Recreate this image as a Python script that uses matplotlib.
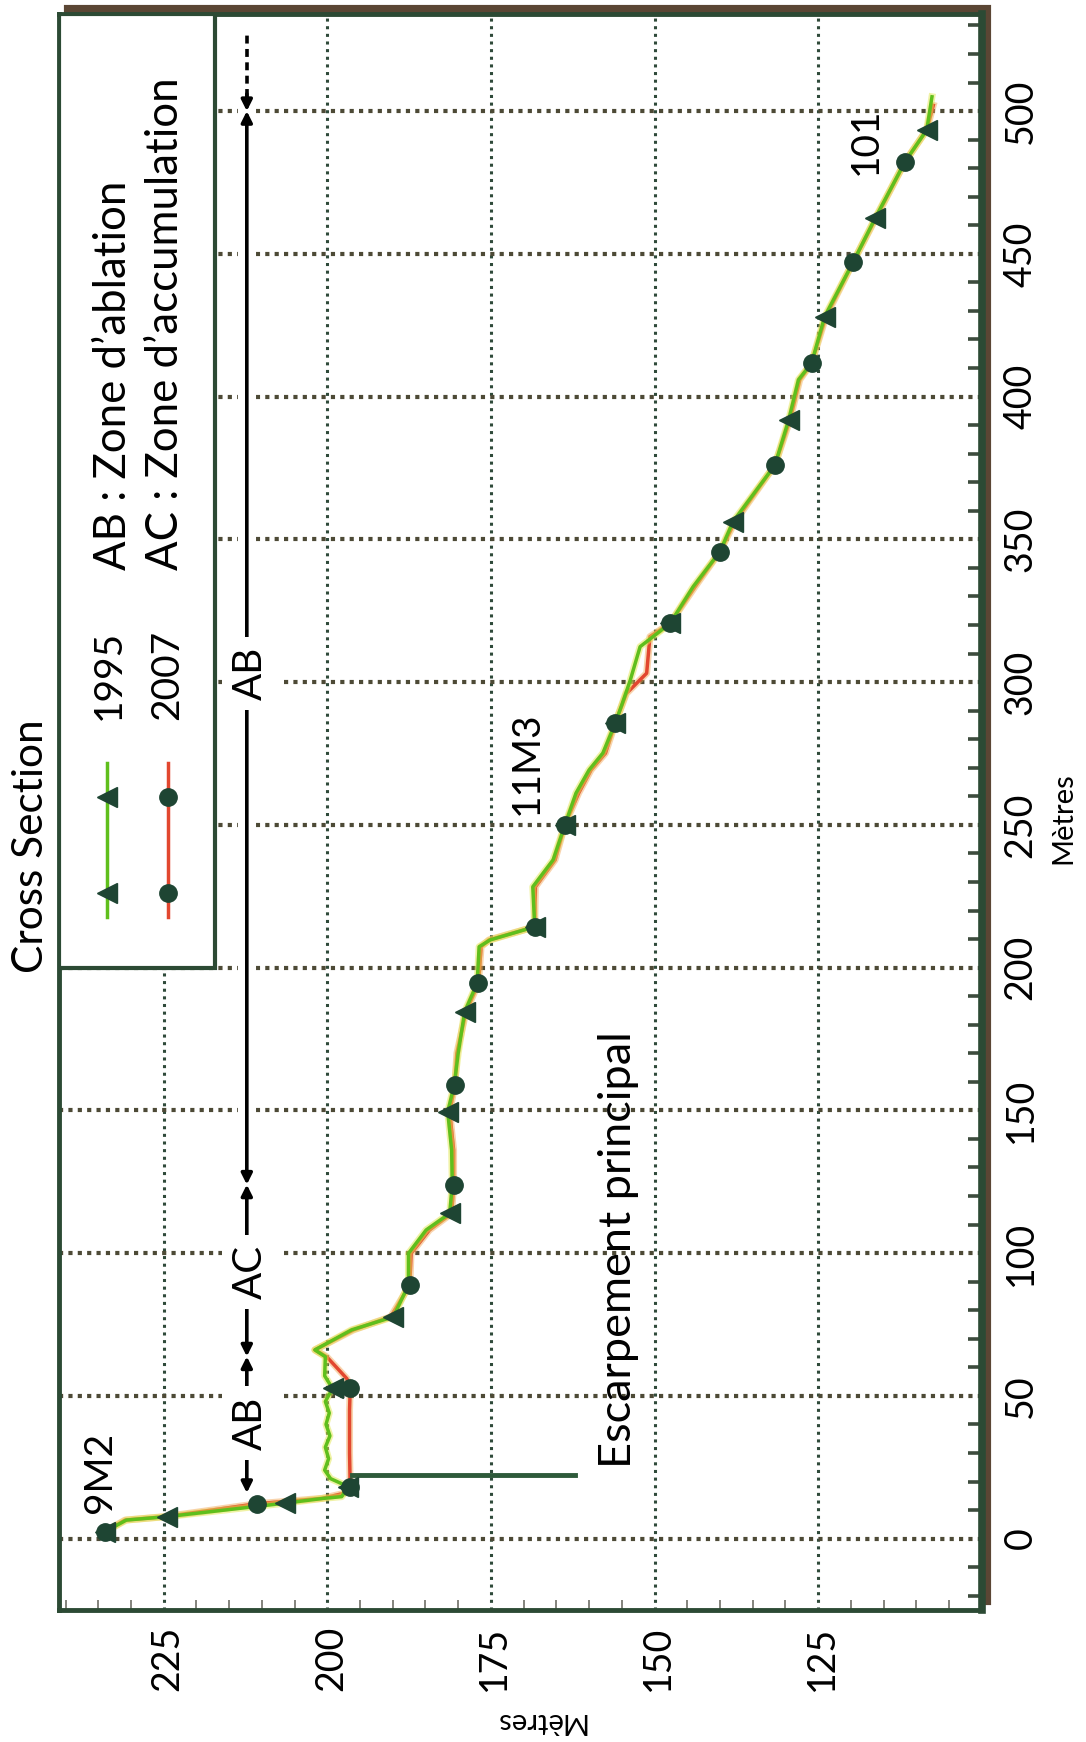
import numpy as np
import matplotlib
matplotlib.use("Agg")
import matplotlib.pyplot as plt
from matplotlib.patches import Rectangle
import matplotlib.transforms as mtransforms
import matplotlib.patheffects as pe
from matplotlib.ticker import FixedLocator, MultipleLocator

plt.rcParams['font.family'] = ['Lato', 'DejaVu Sans']

# ---------------- data ----------------
dist_1995 = [2.4, 6.5, 7.7, 12.4, 14.1, 14.7, 18.2, 21.0, 24.0, 28.0, 32.0, 36.0, 40.0, 44.0, 48.0,
             52.6, 57.0, 63.7, 66.1, 73.1, 77.7, 88.8, 99.9, 108.1, 113.9, 123.9,
             136.1, 149.5, 158.9, 170.0, 184.6, 194.5, 207.3, 209.7, 214.3,
             228.3, 237.7, 249.9, 261.1, 269.2, 275.1, 285.6,
             292.0, 300.7, 312.4, 320.6, 333.4, 345.7, 356.2,
             376.0, 391.8, 405.9, 411.7, 428.0, 447.3, 462.4, 482.3, 493.4, 505.0]
elev_1995 = [234.0, 230.7, 224.5, 206.5, 200.6, 197.8, 196.8, 199.5, 200.4, 199.8, 200.3, 199.6, 200.2, 199.7, 200.3,
             199.2, 200.4, 200.3, 201.9, 196.3, 189.9, 187.6, 187.6, 184.9, 181.3, 180.9,
             181.0, 181.6, 180.6, 180.0, 179.0, 177.1, 176.8, 175.1, 168.3,
             168.6, 165.5, 163.7, 162.0, 160.0, 157.9, 156.0,
             155.0, 153.7, 152.2, 147.6, 144.1, 140.0, 138.0,
             131.6, 129.5, 128.0, 126.0, 124.0, 119.6, 116.3, 111.7, 108.4, 107.6]
marks_1995 = [2.4, 7.7, 12.4, 18.2, 52.6, 77.7, 113.9, 149.5, 184.6, 214.3, 249.9, 285.6,
              320.6, 356.2, 391.8, 428.0, 462.4, 493.4]

dist_2007 = [2.4, 6.5, 7.7, 12.2, 14.1, 16.0, 18.2, 30.0, 45.0, 52.6, 56.0, 60.0, 63.7, 66.1,
             73.1, 77.7, 88.8, 99.9, 108.1, 113.9, 123.9,
             136.1, 149.5, 158.9, 170.0, 184.6, 194.5, 207.3, 209.7, 214.3,
             228.3, 237.7, 249.9, 261.1, 269.2, 275.1, 285.6,
             296.0, 303.1, 315.9, 320.6, 333.4, 345.7, 356.2,
             376.0, 391.8, 405.9, 411.7, 428.0, 447.3, 462.4, 482.3, 493.4, 502.0]
elev_2007 = [234.0, 230.9, 224.8, 210.8, 200.8, 197.2, 196.5, 196.6, 196.6, 196.5, 197.0, 198.6, 200.1, 201.9,
             196.0, 190.3, 187.4, 187.2, 184.4, 181.0, 180.7,
             180.7, 181.3, 180.5, 180.2, 178.8, 176.9, 176.5, 175.3, 168.3,
             168.2, 165.2, 163.7, 161.6, 159.7, 157.5, 156.0,
             154.3, 151.2, 150.7, 147.6, 143.8, 140.0, 137.7,
             131.6, 129.3, 127.8, 126.0, 123.8, 119.6, 116.2, 111.7, 108.4, 107.4]
marks_2007 = [2.4, 12.2, 18.2, 52.6, 88.8, 123.9, 158.9, 194.5, 214.3, 249.9, 285.6,
              320.6, 345.7, 376.0, 411.7, 447.3, 482.3]

series_labels = ['1995', '2007']
zone_legend = ['AB : Zone d\u2019ablation', 'AC : Zone d\u2019accumulation']
zone_names = ['AB', 'AC', 'AB']
zone_bounds = [16.0, 63.8, 124.0, 500.0]
elev_ticks = [225, 200, 175, 150, 125]
dist_ticks = [0, 50, 100, 150, 200, 250, 300, 350, 400, 450, 500]
point_labels = ['9M2', '11M3', '101']
point_label_pos = [(233.1, 8.9), (167.8, 253.4), (116.0, 477.6)]
escarp_elev = [196.3, 162.2]
escarp_dist = 22.3

# ---------------- style ----------------
SPINE = '#2c4a34'
DARK = '#1e4533'
GREEN = '#5fbf1c'
RED = '#e2472f'
BROWN = '#5b4634'
FS = 28
TICK_FS = 27

W, H = 1086, 1742
fig = plt.figure(figsize=(W / 100, H / 100), dpi=100)
L, R, T, B = 59, 981.7, 14, 1610
ax = fig.add_axes([L / W, 1 - B / H, (R - L) / W, (B - T) / H])
ax.set_xlim(241, 100)
ax.set_ylim(-25, 534)
ax.set_axisbelow(True)

# drop shadow of the frame
offset = mtransforms.ScaledTranslation(7 / 100, 7 / 100, fig.dpi_scale_trans)
shadow = Rectangle((0, 0), 1, 1, transform=ax.transAxes + offset,
                   fc=BROWN, ec=BROWN, lw=3, zorder=-1)
fig.add_artist(shadow)

for side, sp in ax.spines.items():
    sp.set_color(SPINE)
    sp.set_linewidth(3.5)
ax.spines['right'].set_linewidth(5.5)

# ticks
ax.xaxis.set_major_locator(FixedLocator(elev_ticks))
ax.xaxis.set_minor_locator(MultipleLocator(5))
ax.yaxis.set_major_locator(FixedLocator(dist_ticks))
ax.yaxis.set_minor_locator(MultipleLocator(10))
ax.yaxis.tick_right()
ax.tick_params(axis='x', which='major', direction='in', length=0, pad=11,
               labelsize=TICK_FS, labelrotation=90)
ax.tick_params(axis='x', which='minor', direction='in', length=7, width=1.3,
               color='#7a7a72')
ax.tick_params(axis='y', which='major', direction='in', length=0, pad=15,
               labelsize=TICK_FS, labelrotation=90, left=False, right=True)
ax.tick_params(axis='y', which='minor', direction='in', length=10, width=2.6,
               color='#3d4b3d', left=False, right=True)
for lbl in ax.get_xticklabels():
    lbl.set_rotation_mode('anchor')
    lbl.set_ha('right')
    lbl.set_va('center_baseline')
for lbl in ax.get_yticklabels():
    lbl.set_rotation_mode('anchor')
    lbl.set_ha('center')
    lbl.set_va('top')

# grid
ax.yaxis.grid(True, which='major', color='#4d4a36', lw=3.0, ls=(0, (1.0, 1.25)))
ax.xaxis.grid(True, which='major', color='#2f4a3a', lw=2.2, ls=(0, (1.0, 1.5)))

# axis labels
ax.set_xlabel('Mètres', fontsize=21, rotation=180, va='center', ha='center')
ax.xaxis.set_label_coords((539 - L) / (R - L), -(1721 - B) / (B - T))
ax.yaxis.set_label_position('right')
ax.set_ylabel('Mètres', fontsize=21, rotation=90, va='center', ha='center')
ax.yaxis.set_label_coords((1063 - L) / (R - L), 1 - (818 - T) / (B - T))

# series
d95, e95 = np.array(dist_1995), np.array(elev_1995)
d07, e07 = np.array(dist_2007), np.array(elev_2007)
i95 = np.isin(d95, marks_1995)
i07 = np.isin(d07, marks_2007)
ax.plot(e07, d07, color=RED, lw=2.5, zorder=4,
        path_effects=[pe.Stroke(linewidth=5, foreground='#f0a04a', alpha=0.45), pe.Normal()])
ax.plot(e95, d95, color=GREEN, lw=2.5, zorder=4.2,
        path_effects=[pe.Stroke(linewidth=5, foreground='#e2e64e', alpha=0.5), pe.Normal()])
ax.plot(e07[i07], d07[i07], ls='none', marker='o', ms=12.5, mfc=DARK, mec=DARK, zorder=5)
ax.plot(e95[i95], d95[i95], ls='none', marker='<', ms=14, mfc=DARK, mec=DARK, zorder=5)

# escarpment line
ax.plot(escarp_elev, [escarp_dist, escarp_dist], color='#2e5a3a', lw=3.5, zorder=4.5)
ax.text(153.6, 24.7, 'Escarpement principal', fontsize=32.5, rotation=90,
        rotation_mode='anchor', ha='left', va='baseline', zorder=6)

# point labels
for txt, (ex, dy) in zip(point_labels, point_label_pos):
    ax.text(ex, dy, txt, fontsize=FS, rotation=90, rotation_mode='anchor',
            ha='left', va='baseline', zorder=6)

# zone arrows
ZE = 212.3
ax.plot([ZE, ZE], [14, 528], color='white', lw=13, solid_capstyle='butt', zorder=2.5)
for name, a, b in zip(zone_names, zone_bounds[:-1], zone_bounds[1:]):
    ax.annotate('', xy=(ZE, a), xytext=(ZE, b),
                arrowprops=dict(arrowstyle='<|-|>', lw=2.6, color='black',
                                mutation_scale=16, shrinkA=0, shrinkB=0),
                zorder=3)
label_pos = [40.5, 93.5, 303.0]
for name, dy in zip(zone_names, label_pos):
    ax.text(ZE, dy, name, fontsize=FS + 1, rotation=90, rotation_mode='anchor',
            ha='center', va='center_baseline', zorder=3.5,
            bbox=dict(boxstyle='square,pad=0.25', fc='white', ec='none'))
ax.plot([ZE, ZE], [505, 528], color='black', lw=2.6, ls=(0, (2.2, 1.5)), zorder=3)
ax.annotate('', xy=(ZE, zone_bounds[-1]), xytext=(ZE, 506),
            arrowprops=dict(arrowstyle='-|>', lw=2.6, color='black',
                            mutation_scale=16, shrinkA=0, shrinkB=0), zorder=3)

# legend (drawn by hand, rotated)
ax.add_patch(Rectangle((217.2, 200), 241 - 217.2, 534 - 200, fc='white',
                       ec=SPINE, lw=3, zorder=6))
leg_x = [233.7, 224.3]
for lx, col, mk, ms in zip(leg_x, [GREEN, RED], ['<', 'o'], [14, 12.5]):
    ax.plot([lx, lx], [217.8, 271.7], color=col, lw=2.5, zorder=7)
    ax.plot([lx, lx], [226.1, 259.8], ls='none', marker=mk, ms=ms,
            mfc=DARK, mec=DARK, zorder=7.5)
for txt, ex in zip(series_labels, [231.7, 222.8]):
    ax.text(ex, 286.7, txt, fontsize=FS, rotation=90, rotation_mode='anchor',
            ha='left', va='baseline', zorder=8)
for txt, ex in zip(zone_legend, [230.7, 222.8]):
    ax.text(ex, 339.2, txt, fontsize=31.5, rotation=90, rotation_mode='anchor',
            ha='left', va='baseline', zorder=8)

# title
ax.text(243.45, 198.1, 'Cross Section', fontsize=30.5, rotation=90,
        rotation_mode='anchor', ha='left', va='baseline', clip_on=False)

fig.savefig('out.png', dpi=100, facecolor='white')
